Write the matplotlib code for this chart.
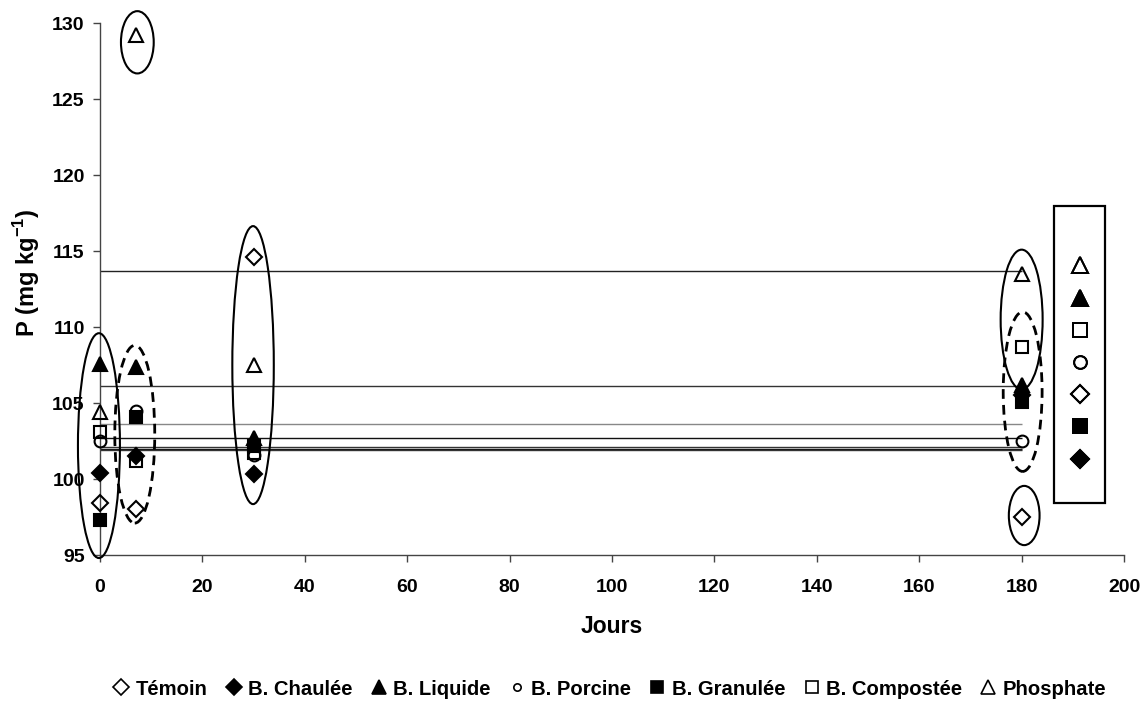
import matplotlib
matplotlib.use('Agg')
import matplotlib.pyplot as plt
from matplotlib.patches import Ellipse, Rectangle
from matplotlib.lines import Line2D

plt.rcParams['font.family'] = ['Liberation Sans', 'DejaVu Sans']
plt.rcParams['font.weight'] = 'bold'
plt.rcParams['mathtext.fontset'] = 'custom'
plt.rcParams['mathtext.bf'] = 'Liberation Sans:bold'
plt.rcParams['mathtext.rm'] = 'Liberation Sans:bold'

# Data
days = [0, 7, 30, 180]
temoin = [98.4, 98.0, 114.6, 97.5]
chaulee = [100.4, 101.5, 100.3, 105.5]
liquide = [107.6, 107.4, 102.7, 106.2]
porcine = [102.5, 104.5, 101.6, 102.5]
granulee = [97.3, 104.1, 102.2, 105.1]
compostee = [103.1, 101.2, 101.7, 108.7]
phosphate = [104.4, 129.2, 107.5, 113.5]

labels = ['Témoin', 'B. Chaulée', 'B. Liquide', 'B. Porcine',
          'B. Granulée', 'B. Compostée', 'Phosphate']
series = [temoin, chaulee, liquide, porcine, granulee, compostee, phosphate]
markers = ['D', 'D', '^', 'o', 's', 's', '^']
filled = [False, True, True, False, True, False, False]
msizes = [8.5, 8.5, 10.5, 8.5, 9, 9, 10.5]

# horizontal reference levels
levels = [113.7, 106.1, 103.6, 102.7, 102.1, 102.0, 101.9]
level_colors = ['#222222', '#333333', '#888888', '#111111', '#333333', '#111111', '#333333']

fig = plt.figure(figsize=(11.45, 7.02), dpi=100)
ax = fig.add_axes([0.0873, 0.2094, 0.8944, 0.7574])

ax.hlines(levels, 0, 180, colors=level_colors, linewidth=1.0, zorder=1)

handles = []
for lab, vals, m, f, ms in zip(labels, series, markers, filled, msizes):
    ax.plot(days, vals, linestyle='none', marker=m, markersize=ms,
            markerfacecolor='black' if f else 'none',
            markeredgecolor='black', markeredgewidth=1.5,
            clip_on=False, zorder=3)
    handles.append(Line2D([], [], linestyle='none', marker=m,
                          markersize=ms * (0.62 if m == 'o' else 0.9),
                          markerfacecolor='black' if f else 'none',
                          markeredgecolor='black', markeredgewidth=1.2,
                          label=lab))

# grouping ellipses (center x, center y, width, height, style)
ell_x = [-0.2, 6.8, 7.3, 29.9, 180.0, 180.2, 180.5]
ell_y = [102.2, 102.95, 128.75, 107.5, 110.5, 105.75, 97.6]
ell_w = [8.2, 7.8, 6.4, 8.1, 8.2, 7.6, 6.0]
ell_h = [14.8, 11.7, 4.1, 18.3, 9.2, 10.5, 3.9]
ell_ls = ['-', (0, (3.5, 2.2)), '-', '-', '-', (0, (3.5, 2.2)), '-']
for x, y, w, h, ls in zip(ell_x, ell_y, ell_w, ell_h, ell_ls):
    lw = 2.0 if ls != '-' else 1.5
    ax.add_patch(Ellipse((x, y), w, h, fill=False, edgecolor='black',
                         linewidth=lw, linestyle=ls, clip_on=False, zorder=4))

ax.set_xlim(0, 200)
ax.set_ylim(95, 130)
ax.set_xticks(range(0, 201, 20))
ax.set_yticks(range(95, 131, 5))
for s in ['top', 'right']:
    ax.spines[s].set_visible(False)
for s in ['left', 'bottom']:
    ax.spines[s].set_color('#444444')
    ax.spines[s].set_linewidth(1.0)
ax.tick_params(direction='out', length=5, width=1.0, color='#444444',
               labelsize=14, pad=6)
ax.tick_params(axis='x', pad=12)

ax.set_xlabel('Jours', fontsize=16.5, fontweight='bold', labelpad=14)
ax.set_ylabel(r'P (mg kg$^{\mathbf{-1}}$)', fontsize=17, fontweight='bold')
ax.yaxis.set_label_coords(-0.057, 0.53)

# marker key box on the right
fig.patches.append(Rectangle((1054 / 1145, (702 - 503) / 702), 51 / 1145, 297 / 702,
                             transform=fig.transFigure, fill=False,
                             edgecolor='black', linewidth=1.6, zorder=5))
order = [6, 2, 5, 3, 0, 4, 1]
box_handles = []
for i in order:
    box_handles.append(Line2D([], [], linestyle='none', marker=markers[i],
                              markersize=msizes[i] * 1.08,
                              markerfacecolor='black' if filled[i] else 'none',
                              markeredgecolor='black', markeredgewidth=1.4))
leg_box = ax.legend(box_handles, [''] * 7, loc='center',
                    bbox_to_anchor=(1080 / 1145, (702 - 364) / 702),
                    bbox_transform=fig.transFigure,
                    frameon=False, handlelength=1.2, handletextpad=0,
                    labelspacing=0.75, borderpad=0, borderaxespad=0, fontsize=14)
ax.add_artist(leg_box)

fig.legend(handles=handles, loc='center', ncol=7,
           bbox_to_anchor=(0.532, 0.0185), frameon=False,
           handlelength=0.9, handletextpad=0.25,
           columnspacing=0.85, prop={'weight': 'bold', 'size': 14.6})

fig.savefig('out.png', dpi=100)
